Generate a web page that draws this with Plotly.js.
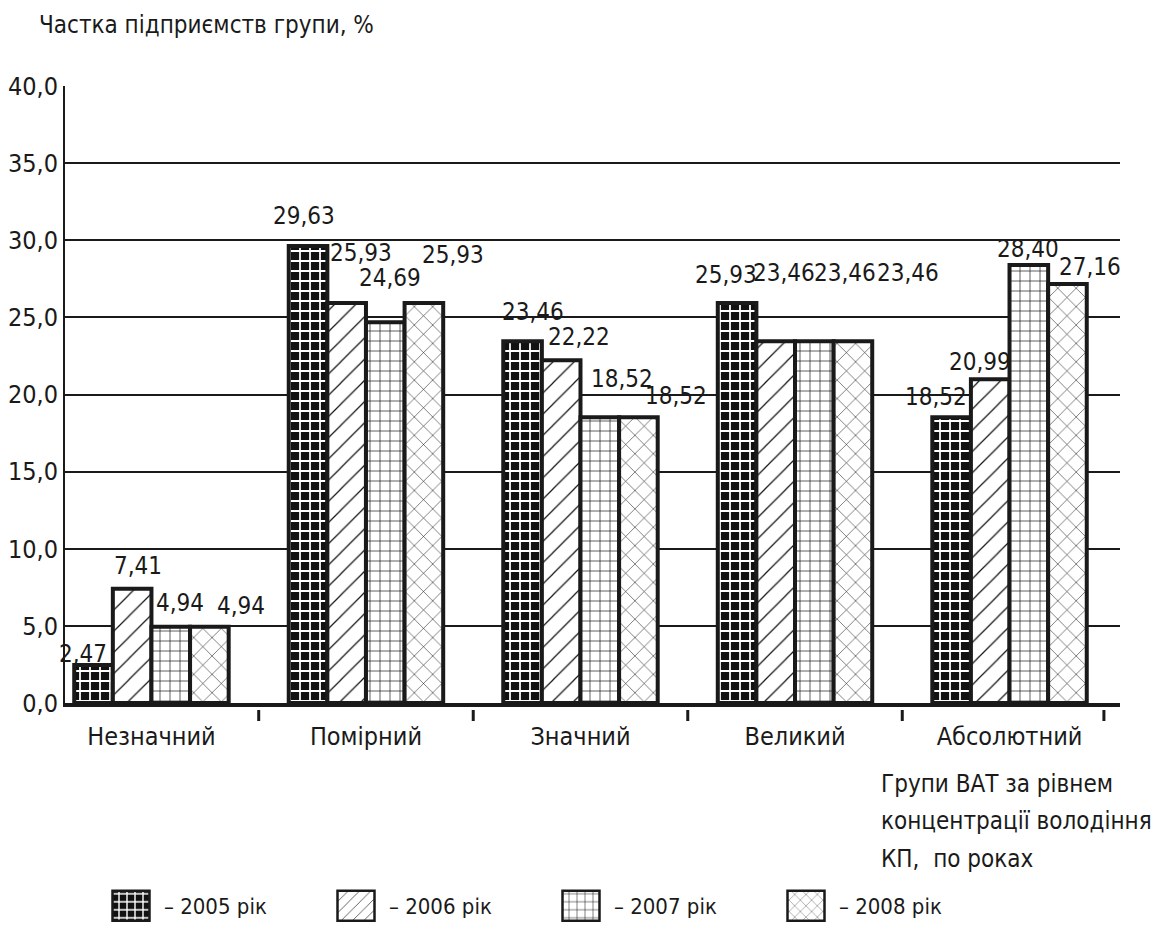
<!DOCTYPE html>
<html>
<head>
<meta charset="utf-8">
<script src="https://cdn.plot.ly/plotly-3.0.1.min.js"></script>
<style>
  html, body { margin: 0; padding: 0; background: #fff; }
  #chart { width: 1159px; height: 941px; }
</style>
</head>
<body>
<div id="chart"></div>
<script>
// Частка підприємств групи за рівнем концентрації володіння КП, %
const categories = ['Незначний', 'Помірний', 'Значний', 'Великий', 'Абсолютний'];
const years = ['2005', '2006', '2007', '2008'];
const v2005 = [2.47, 29.63, 23.46, 25.93, 18.52];
const v2006 = [7.41, 25.93, 22.22, 23.46, 20.99];
const v2007 = [4.94, 24.69, 18.52, 23.46, 28.40];
const v2008 = [4.94, 25.93, 18.52, 23.46, 27.16];
const yTickVals = [0, 5, 10, 15, 20, 25, 30, 35, 40];

const series = [v2005, v2006, v2007, v2008];

// Placement of the value labels relative to each bar top (px): [series][group]
const labelDx = [
  [-11, -4, 10, -11, -16],
  [6, 14, 18, 8, -10],
  [9, 5, 22, 31, -1],
  [32, 29, 38, 55, 23]
];
const labelDy = [
  [11, 30, 29, 28, 20],
  [23, 50, 23, 68, 17],
  [24, 44, 38, 68, 16],
  [21, 48, 21, 68, 17]
];

// Fill patterns for the four years
const patterns = [
  { shape: '+', fgcolor: '#ffffff', bgcolor: '#111111', size: 10, solidity: 0.32 },
  { shape: '/', fgcolor: '#111111', bgcolor: '#ffffff', size: 15, solidity: 0.08 },
  { shape: '+', fgcolor: '#111111', bgcolor: '#ffffff', size: 10, solidity: 0.13 },
  { shape: 'x', fgcolor: '#111111', bgcolor: '#ffffff', size: 13, solidity: 0.08 }
];

const FONT = '"DejaVu Sans Condensed", "Liberation Sans Narrow", sans-serif';
const INK = '#1a1a1a';
const fmt = (v, d) => v.toFixed(d).replace('.', ',');

const BARGAP = 0.28;
const barW = (1 - BARGAP) / years.length;

const xIdx = categories.map((_, i) => i);

const traces = series.map((vals, s) => ({
  type: 'bar',
  name: '– ' + years[s] + ' рік',
  x: xIdx,
  y: vals,
  marker: {
    color: '#ffffff',
    line: { color: INK, width: 4 },
    pattern: Object.assign({ fillmode: 'replace' }, patterns[s])
  },
  hoverinfo: 'skip'
}));

// Plot-area geometry in pixels (used to place free text)
const M = { l: 65, r: 39, t: 86, b: 238 };
const plotH = 941 - M.t - M.b;
const plotW = 1159 - M.l - M.r;
const py = (Y) => (941 - M.b - Y) / plotH;
const px = (X) => (X - M.l) / plotW;

const annotations = [];
series.forEach((vals, s) => {
  vals.forEach((v, g) => {
    annotations.push({
      x: g + (s - 1.5) * barW,
      y: v,
      xref: 'x', yref: 'y',
      text: fmt(v, 2),
      showarrow: false,
      xanchor: 'center', yanchor: 'middle',
      xshift: labelDx[s][g],
      yshift: labelDy[s][g],
      font: { family: FONT, size: 24, color: INK }
    });
  });
});

annotations.push({
  xref: 'paper', yref: 'paper', x: px(37), y: py(25),
  xanchor: 'left', yanchor: 'middle', showarrow: false,
  text: 'Частка підприємств групи, %',
  font: { family: FONT, size: 24, color: INK }
});

const groupTitle = ['Групи ВАТ за рівнем', 'концентрації володіння', 'КП,  по роках'];
const groupTitleY = [784, 821, 859];
groupTitle.forEach((t, i) => {
  annotations.push({
    xref: 'paper', yref: 'paper', x: px(879), y: py(groupTitleY[i]),
    xanchor: 'left', yanchor: 'middle', showarrow: false,
    text: t,
    font: { family: FONT, size: 24, color: INK }
  });
});

// Separator ticks between the groups, detached below the axis
const sepTicks = [0.5, 1.5, 2.5, 3.5, 4.44];
const shapes = sepTicks.map(t => ({
  type: 'line', xref: 'x', yref: 'paper',
  x0: t, x1: t, y0: py(710), y1: py(721),
  line: { color: INK, width: 3 }
}));

const layout = {
  width: 1159, height: 941,
  margin: M,
  paper_bgcolor: '#ffffff',
  plot_bgcolor: '#ffffff',
  barmode: 'group',
  bargap: BARGAP,
  bargroupgap: 0,
  showlegend: true,
  legend: {
    orientation: 'h',
    x: px(124), xanchor: 'left',
    y: py(906), yanchor: 'middle',
    font: { family: FONT, size: 22, color: INK },
    entrywidth: 180, entrywidthmode: 'pixels',
    traceorder: 'normal',
    bgcolor: 'rgba(0,0,0,0)'
  },
  xaxis: {
    range: [-0.403, 4.515],
    tickvals: xIdx,
    ticktext: categories,
    ticks: '',
    ticklabelstandoff: 8,
    showgrid: false,
    zeroline: false,
    showline: true,
    linecolor: INK,
    linewidth: 4,
    tickfont: { family: FONT, size: 25, color: INK },
    fixedrange: true
  },
  yaxis: {
    range: [0, 40],
    tickvals: yTickVals,
    ticktext: yTickVals.map(v => fmt(v, 1)),
    ticks: '',
    showgrid: true,
    gridcolor: INK,
    gridwidth: 2,
    zeroline: false,
    showline: true,
    linecolor: INK,
    linewidth: 2,
    tickfont: { family: FONT, size: 25, color: INK },
    fixedrange: true
  },
  annotations: annotations,
  shapes: shapes
};

Plotly.newPlot('chart', traces, layout, { staticPlot: true, displayModeBar: false }).then(gd => {
  // Larger legend swatches, not clipped by the legend box
  gd.querySelectorAll('.legend .scrollbox').forEach(el => el.removeAttribute('clip-path'));
  gd.querySelectorAll('.legend').forEach(el => el.removeAttribute('clip-path'));
  gd.querySelectorAll('.legend .legendpoints path').forEach(p => {
    p.setAttribute('d', 'M18.5,15H-18.5V-15H18.5Z');
    p.setAttribute('transform', 'translate(7,0)');
    p.style.strokeWidth = '2.5px';
  });
});
</script>
</body>
</html>
